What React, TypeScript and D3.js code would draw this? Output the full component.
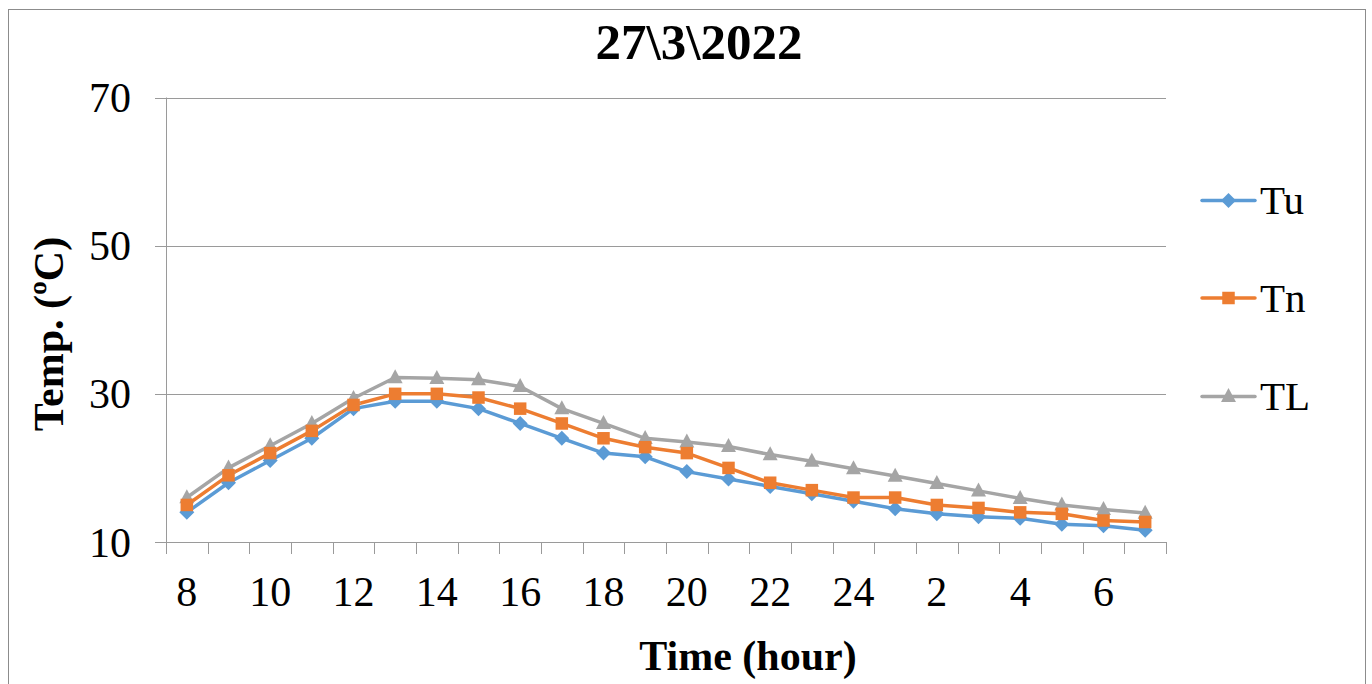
import React from "react";
import * as d3 from "d3";

// Hour of day for each reading (08:00 on the 27th through 07:00 next morning)
const hours: number[] = [8, 9, 10, 11, 12, 13, 14, 15, 16, 17, 18, 19, 20, 21, 22, 23, 24, 1, 2, 3, 4, 5, 6, 7];

// Temperatures (ºC)
const tu: number[] = [14, 18, 21, 24, 28, 29, 29, 28, 26, 24, 22, 21.5, 19.5, 18.5, 17.5, 16.5, 15.5, 14.5, 13.8, 13.4, 13.2, 12.4, 12.2, 11.6];
const tn: number[] = [15, 19, 22, 25, 28.5, 30, 30, 29.5, 28, 26, 24, 22.8, 22, 20, 18, 17, 16, 16, 15, 14.6, 14, 13.8, 12.9, 12.7];
const tl: number[] = [16, 20, 23, 26, 29.4, 32.2, 32.1, 31.9, 31, 28, 26, 24, 23.5, 22.9, 21.8, 20.9, 19.9, 18.9, 17.9, 16.9, 15.9, 15, 14.4, 13.9];

const yTicks: number[] = [10, 30, 50, 70];

const seriesNames = ["Tu", "Tn", "TL"];
const colors: Record<string, string> = { Tu: "#5B9BD5", Tn: "#ED7D31", TL: "#A5A5A5" };

const W = 1372;
const H = 684;
const plot = { left: 166, right: 1166, top: 97.5, bottom: 542 };
const FONT = "'Liberation Serif', 'Times New Roman', serif";

function Marker({ name, x, y }: { name: string; x: number; y: number }) {
  const c = colors[name];
  if (name === "Tu") {
    const r = 7.5;
    return <path d={`M${x},${y - r}L${x + r},${y}L${x},${y + r}L${x - r},${y}Z`} fill={c} />;
  }
  if (name === "Tn") {
    const s = 12.5;
    return <rect x={x - s / 2} y={y - s / 2} width={s} height={s} fill={c} />;
  }
  const h = 14;
  return <path d={`M${x},${y - h * 0.6}L${x + 7.5},${y + h * 0.4}L${x - 7.5},${y + h * 0.4}Z`} fill={c} />;
}

export default function App() {
  const idx = hours.map((_, i) => i);
  const x = d3.scaleBand<number>().domain(idx).range([plot.left, plot.right]);
  const y = d3.scaleLinear().domain([10, 70]).range([plot.bottom, plot.top]);
  const cx = (i: number) => (x(i) as number) + x.bandwidth() / 2;

  const data: Record<string, number[]> = { Tu: tu, Tn: tn, TL: tl };
  const line = d3
    .line<number>()
    .x((_, i) => cx(i))
    .y((v) => y(v));

  const drawOrder = ["Tu", "TL", "Tn"];
  const boundaries = d3.range(hours.length + 1).map((k) => plot.left + k * x.step());

  const legendY: Record<string, number> = { Tu: 200.5, Tn: 298, TL: 396.5 };

  return (
    <svg
      width={W}
      height={H}
      style={{ position: "absolute", left: 0, top: 0, background: "#fff" }}
      fontFamily={FONT}
    >
      <rect x={8.5} y={9.5} width={1357} height={700} fill="#fff" stroke="#8c8c8c" strokeWidth={1} />

      <text x={699} y={59} textAnchor="middle" fontSize={51} fontWeight="bold">
        27\3\2022
      </text>

      {/* gridlines and y ticks */}
      {yTicks.map((t) => (
        <g key={t}>
          <line x1={155} x2={plot.right} y1={Math.round(y(t)) + 0.5} y2={Math.round(y(t)) + 0.5} stroke="#9a9a9a" strokeWidth={1} />
          <text x={131} y={y(t) + 14.5} textAnchor="end" fontSize={42}>
            {t}
          </text>
        </g>
      ))}
      <line x1={plot.left + 0.5} x2={plot.left + 0.5} y1={plot.top} y2={plot.bottom} stroke="#9a9a9a" strokeWidth={1} />

      {/* category ticks */}
      {boundaries.map((bx, k) => (
        <line key={k} x1={Math.round(bx) + 0.5} x2={Math.round(bx) + 0.5} y1={plot.bottom} y2={plot.bottom + 12} stroke="#9a9a9a" strokeWidth={1} />
      ))}
      {hours.map((h, i) =>
        i % 2 === 0 ? (
          <text key={i} x={cx(i)} y={606} textAnchor="middle" fontSize={42}>
            {h}
          </text>
        ) : null
      )}

      {/* series lines */}
      {drawOrder.map((n) => (
        <path key={n} d={line(data[n]) as string} fill="none" stroke={colors[n]} strokeWidth={3.5} strokeLinejoin="round" />
      ))}
      {drawOrder.map((n) => (
        <g key={n}>
          {data[n].map((v, i) => (
            <Marker key={i} name={n} x={cx(i)} y={y(v)} />
          ))}
        </g>
      ))}

      {/* axis titles */}
      <text x={748} y={670} textAnchor="middle" fontSize={42} fontWeight="bold">
        Time (hour)
      </text>
      <text transform="translate(63,334) rotate(-90)" textAnchor="middle" fontSize={42} fontWeight="bold">
        Temp. (ºC)
      </text>

      {/* legend */}
      {seriesNames.map((n) => (
        <g key={n}>
          <line x1={1202} x2={1255} y1={legendY[n]} y2={legendY[n]} stroke={colors[n]} strokeWidth={3.5} strokeLinecap="round" />
          <Marker name={n} x={1228.5} y={legendY[n]} />
          <text x={1260} y={legendY[n] + 13.5} fontSize={41}>
            {n}
          </text>
        </g>
      ))}
    </svg>
  );
}
